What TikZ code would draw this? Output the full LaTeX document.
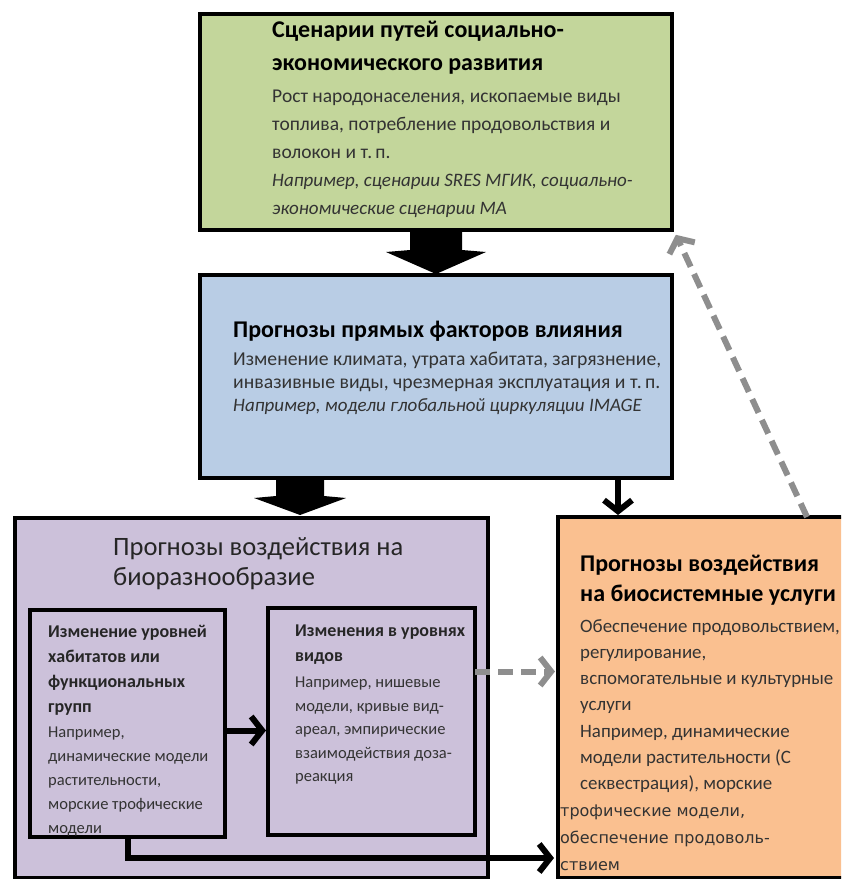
\documentclass[tikz,border=0pt]{standalone}
\usepackage{fontspec}
\setmainfont{Carlito}
\newfontfamily\wideface{DejaVu Sans}
\usetikzlibrary{arrows.meta,calc}
\tikzset{>={Straight Barb[length=11pt,width=28pt]}}
\definecolor{scengreen}{HTML}{C3D69B}
\definecolor{driverblue}{HTML}{B9CDE5}
\definecolor{biolilac}{HTML}{CCC1DA}
\definecolor{servorange}{HTML}{FAC090}
\definecolor{txtgray}{HTML}{333333}
\definecolor{fbgray}{HTML}{8E8E8E}
\newcommand{\fsz}[2]{\fontsize{#1}{#2}\selectfont}
\tikzset{
  box/.style={draw=black, line width=4.5pt, anchor=north west, inner sep=0pt, outer sep=0pt},
  txt/.style={anchor=north west, inner sep=0pt, align=left, text=txtgray},
  head/.style={txt, text=black, font=\bfseries\fsz{24}{33}},
  link/.style={->, line width=6pt},
  feedback/.style={->, line width=6pt, draw=fbgray, dash pattern=on 15pt off 8pt}
}

\begin{document}
\begin{tikzpicture}[x=1pt,y=-1pt]
    \useasboundingbox (0,0) rectangle (843,879);
    \clip (0,0) rectangle (841,879);
    % boxes
    \node[box, fill=scengreen, minimum width=472pt, minimum height=216pt] (scen) at (200,14) {};
    \node[box, fill=driverblue, minimum width=472pt, minimum height=203pt] (driver) at (200,275) {};
    \node[box, fill=biolilac, line width=4pt, minimum width=473pt, minimum height=360pt] (bio) at (15,518) {};
    \node[box, fill=biolilac, minimum width=195pt, minimum height=227pt] (habitat) at (30,610) {};
    \node[box, fill=biolilac, minimum width=207pt, minimum height=227pt] (species) at (268,608) {};
    % the services box runs off the right edge
    \node[box, fill=servorange, line width=3.5pt, minimum width=320pt, minimum height=361pt] (serv) at (558,517) {};

    % texts
    \node[head] (scen-title) at (272,21) {Сценарии путей социально-\\экономического развития};
    \node[txt, font=\fsz{19.5}{28}] (scen-text) at (272,90) {Рост народонаселения, ископаемые виды\\топлива, потребление продовольствия и\\волокон и т.\,п.};
    \node[txt, font=\itshape\fsz{19}{28}] (scen-ex) at (272,174) {Например, сценарии SRES МГИК, социально-\\экономические сценарии МА};

    \node[head] (driver-title) at (233,321) {Прогнозы прямых факторов влияния};
    \node[txt, font=\fsz{19.7}{23}] (driver-text) at (233,352) {Изменение климата, утрата хабитата, загрязнение,\\инвазивные виды, чрезмерная эксплуатация и т.\,п.};
    \node[txt, font=\itshape\fsz{19}{23}] (driver-ex) at (233,398) {Например, модели глобальной циркуляции IMAGE};

    \node[txt, text=black!85, font=\fsz{26.5}{30}] (bio-title) at (113,537) {Прогнозы воздействия на\\биоразнообразие};

    \node[txt, text=black!85, font=\bfseries\fsz{18}{25}] (habitat-title) at (48,625) {Изменение уровней\\хабитатов или\\функциональных\\групп};
    \node[txt, font=\fsz{16.5}{24}] (habitat-text) at (48,727) {Например,\\динамические модели\\растительности,\\морские трофические\\модели};

    \node[txt, text=black!85, font=\bfseries\fsz{18}{25}] (species-title) at (295,625) {Изменения в уровнях\\видов};
    \node[txt, font=\fsz{16.5}{23.5}] (species-text) at (295,677) {Например, нишевые\\модели, кривые вид-\\ареал, эмпирические\\взаимодействия доза-\\реакция};

    \node[head, font=\bfseries\fsz{24}{30}] (serv-title) at (580,555) {Прогнозы воздействия\\на биосистемные услуги};
    \node[txt, font=\fsz{18.9}{26.3}] (serv-text) at (580,619) {Обеспечение продовольствием,\\регулирование,\\вспомогательные и культурные\\услуги\\Например, динамические\\модели растительности (С\\секвестрация), морские};
    \node[txt, font=\wideface\fsz{16}{27}] (serv-more) at (560,805) {трофические модели,\\обеспечение продоволь-\\ствием};

    % block arrows
    \fill[shift={(scen.south)}] (-26,0) -- (26,0) -- (26,20) -- (50,22) -- (0,44) -- (-50,22) -- (-26,20) -- cycle;
    \fill[shift={($(driver.south west)!0.212!(driver.south east)$)}] (-24,0) -- (24,0) -- (24,18) -- (46,20) -- (0,37) -- (-46,20) -- (-24,18) -- cycle;

    % connectors
    \coordinate (drop) at ($(driver.south east)+(-54,0)$);
    \draw[link, shorten >=2pt] (drop) -- (drop |- serv.north);
    \draw[link, shorten >=2pt] ([yshift=-7pt]habitat.east) -- ([yshift=-7pt]habitat.east -| species.west);
    \draw[link, shorten >=4pt] (habitat.south) |- ($(serv.south west)+(0,-20)$);
    \draw[feedback, shorten >=3pt] ([yshift=50pt]species.east) -- ([yshift=50pt]species.east -| serv.west);
    \draw[feedback, shorten >=2pt] ($(serv.north west)+(249,0)$) -- ($(scen.south east)+(3,3)$);
\end{tikzpicture}
\end{document}
